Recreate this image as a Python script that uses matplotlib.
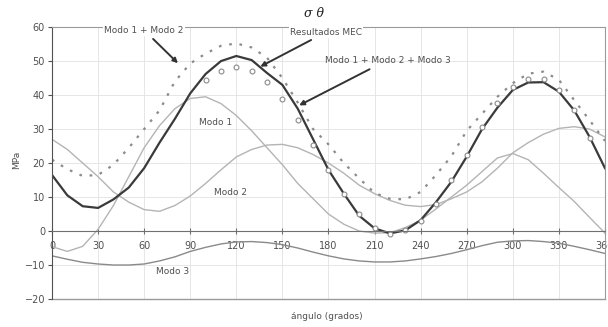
import numpy as np
import matplotlib
matplotlib.use("Agg")
import matplotlib.pyplot as plt

# --- data (angle in degrees, stress in MPa) ---
ang = list(range(0, 361, 10))

modo1 = [-4.6, -6.0, -4.5, 0.5, 7.5, 16.0, 24.5, 31.0, 36.0, 39.0,
         39.5, 37.5, 34.0, 29.5, 24.5, 19.5, 14.0, 9.5, 5.0, 2.0,
         0.0, -0.6, -0.5, 1.0, 3.2, 6.5, 10.0, 13.5, 17.5, 21.5,
         22.8, 21.0, 17.0, 12.8, 8.7, 4.0, -0.6]

modo2 = [27.0, 24.0, 20.0, 16.0, 11.5, 8.5, 6.3, 5.8, 7.5, 10.3,
         14.0, 18.0, 21.8, 24.0, 25.3, 25.5, 24.5, 22.5, 20.0, 17.0,
         13.5, 11.0, 9.0, 7.6, 7.2, 7.8, 9.5, 11.5, 14.5, 18.5,
         23.0, 26.0, 28.5, 30.2, 30.7, 30.0, 27.7]

modo3 = [-7.3, -8.3, -9.2, -9.7, -10.0, -10.0, -9.7, -8.8, -7.6, -6.0,
         -4.8, -3.8, -3.2, -3.1, -3.4, -4.0, -5.0, -6.2, -7.3, -8.2,
         -8.8, -9.1, -9.1, -8.8, -8.2, -7.5, -6.6, -5.5, -4.3, -3.3,
         -2.9, -2.8, -3.1, -3.6, -4.5, -5.5, -6.6]

modo12 = [21.0, 18.2, 16.2, 16.5, 19.5, 24.5, 30.0, 35.5, 44.0, 49.3,
          52.2, 54.5, 55.2, 54.0, 51.0, 45.0, 37.8, 30.0, 25.5, 20.0,
          15.5, 11.2, 9.5, 9.3, 11.5, 16.5, 22.0, 29.5, 34.5, 39.5,
          43.5, 46.3, 46.9, 44.5, 38.5, 32.6, 26.5]

modo123 = [16.5, 10.5, 7.3, 6.8, 9.3, 12.8, 18.5, 26.0, 33.0, 40.5,
           46.2, 50.0, 51.5, 50.3, 46.5, 43.0, 36.0, 27.0, 18.0, 11.0,
           4.5, 0.8, -0.7, 0.2, 3.2, 8.5, 14.5, 21.9, 30.0, 36.3,
           41.5, 43.7, 43.8, 41.0, 35.5, 27.7, 18.5]

mec_ang = list(range(100, 351, 10))
mec = [44.3, 47.2, 48.2, 47.2, 43.9, 38.9, 32.6, 25.3, 18.0, 10.9,
       4.9, 0.8, -0.9, 0.2, 3.0, 8.0, 14.9, 22.4, 30.7, 37.6,
       42.4, 44.6, 44.6, 41.5, 35.6, 27.3]

xticks = list(range(0, 361, 30))
yticks = list(range(-20, 61, 10))

# --- plot ---
fig = plt.figure(figsize=(6.08, 3.27), dpi=100)
ax = fig.add_axes([0.0855, 0.0856, 0.9095, 0.8315])

txt = "#505050"
ax.grid(True, color="#e2e2e2", linewidth=0.6)
ax.set_axisbelow(True)

ax.plot(ang, modo1, color="#b4b4b4", linewidth=1.0)
ax.plot(ang, modo2, color="#b4b4b4", linewidth=1.0)
ax.plot(ang, modo3, color="#8a8a8a", linewidth=1.0)
ax.plot(ang, modo12, color="#8c8c8c", linewidth=1.6, linestyle=(0, (1.2, 3.5)))
ax.plot(ang, modo123, color="#3a3a3a", linewidth=1.6)
ax.plot(mec_ang, mec, linestyle="none", marker="o", markersize=3.5,
        markerfacecolor="white", markeredgecolor="#8a8a8a", markeredgewidth=0.8)

ax.set_xlim(0, 360)
ax.set_ylim(-20, 60)
ax.set_xticks(xticks)
ax.set_yticks(yticks)

# x axis crosses at zero, frame drawn in grey
ax.spines["bottom"].set_position(("data", 0))
ax.spines["bottom"].set_color("#707070")
ax.spines["left"].set_color("#505050")
ax.spines["top"].set_color("#9a9a9a")
ax.spines["right"].set_color("#9a9a9a")
ax.axhline(-20, color="#9a9a9a", linewidth=1.0, clip_on=False)

ax.tick_params(axis="x", direction="inout", length=4, color="#707070",
               labelsize=7, labelcolor=txt, pad=5)
ax.tick_params(axis="y", direction="out", length=3, color="#505050",
               labelsize=7, labelcolor=txt, pad=2)

arrow = dict(arrowstyle="-|>", color="#333333", lw=1.4, mutation_scale=7)
ax.annotate("Modo 1 + Modo 2", xy=(83.3, 48.8), xytext=(60, 59.1),
            ha="center", va="center", fontsize=6.5, color=txt,
            bbox=dict(boxstyle="square,pad=0.15", fc="white", ec="none"),
            arrowprops=dict(arrow, shrinkA=3))
ax.annotate("Resultados MEC", xy=(134, 48), xytext=(178.4, 58.5),
            ha="center", va="center", fontsize=6.5, color=txt,
            bbox=dict(boxstyle="square,pad=0.15", fc="white", ec="none"),
            arrowprops=dict(arrow, shrinkA=3))
ax.annotate("Modo 1 + Modo 2 + Modo 3", xy=(159.3, 36.6), xytext=(218.4, 50.3),
            ha="center", va="center", fontsize=6.5, color=txt,
            arrowprops=dict(arrow, shrinkA=3))

ax.text(106.8, 32, "Modo 1", ha="center", va="center", fontsize=6.5, color=txt)
ax.text(115.9, 11.2, "Modo 2", ha="center", va="center", fontsize=6.5, color=txt)
ax.text(78.8, -12, "Modo 3", ha="center", va="center", fontsize=6.5, color=txt)

fig.text(0.516, 0.96, "σ θ", ha="center", va="center", fontsize=9,
         style="italic", family="DejaVu Serif", color="#222222")
fig.text(0.028, 0.51, "MPa", rotation=90, ha="center", va="center",
         fontsize=6.5, color=txt)
fig.text(0.538, 0.031, "ángulo (grados)", ha="center", va="center",
         fontsize=6.5, color=txt)

fig.savefig("out.png", dpi=100)
